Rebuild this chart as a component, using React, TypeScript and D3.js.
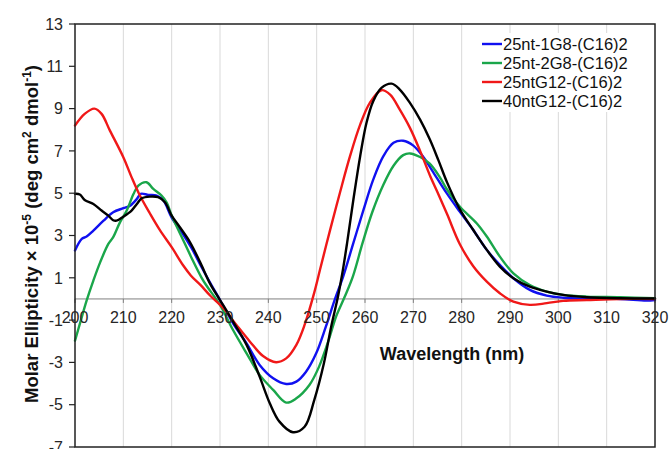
import * as d3 from "d3";

// CD spectra, wavelength (nm) vs molar ellipticity x 10^-5
const blue1G8: [number, number][] = [
  [200, 2.29], [201.4, 2.84], [202.4, 2.95], [203.8, 3.23], [205.9, 3.7], [207.9, 4.1],
  [210, 4.29], [211.4, 4.41], [212.8, 4.73], [213.6, 4.97], [215.2, 4.92], [216.9, 4.89],
  [218.3, 4.65], [220, 3.85], [222.1, 3.15], [224.1, 2.41], [226.2, 1.5], [228, 0.75],
  [230, -0.05], [232.7, -1.15], [235.5, -2.1], [238.2, -3.12], [241, -3.75], [243.7, -4.02],
  [245.8, -3.91], [247.8, -3.44], [249.9, -2.57], [251.9, -1.31], [253.8, 0], [255.5, 1.07],
  [257.6, 2.65], [259.7, 4.22], [261.7, 5.64], [263.8, 6.75], [265.9, 7.38], [267.9, 7.48],
  [270, 7.25], [272.1, 6.7], [274.1, 6.0], [276.9, 5.0], [279.6, 4.13], [282.4, 3.26],
  [285.2, 2.32], [287.9, 1.61], [290.7, 0.98], [294.1, 0.43], [297.6, 0.16], [301, 0.06],
  [305.9, 0.02], [312.8, 0], [318.2, -0.08], [320, -0.05],
];

const green2G8: [number, number][] = [
  [200, -1.97], [201, -1.18], [202.4, -0.08], [203.8, 0.87], [205.2, 1.73], [206.9, 2.6],
  [207.9, 2.92], [209.3, 3.62], [210.7, 4.18], [212.1, 4.96], [213.1, 5.36], [214.8, 5.52],
  [216.2, 5.2], [217.9, 4.89], [219, 4.55], [220, 3.95], [222.1, 2.92], [224.1, 1.95],
  [226.2, 1.0], [227.3, 0.6], [230, -0.28], [232.7, -1.47], [235.5, -2.57], [238.2, -3.59],
  [241, -4.3], [243.7, -4.9], [245.8, -4.7], [248.5, -4.07], [250.5, -3.2], [252.6, -1.86],
  [254, -0.84], [255.8, 0.1], [257.5, 1.07], [259.5, 2.65], [261.5, 4.1], [263.8, 5.4],
  [265.9, 6.3], [267.9, 6.8], [269.3, 6.88], [271.4, 6.71], [273.4, 6.4], [275.5, 5.75],
  [276.9, 5.2], [279.6, 4.37], [283.1, 3.58], [285.2, 2.95], [287.9, 2.0], [290.7, 1.21],
  [294.1, 0.66], [297.6, 0.35], [301, 0.19], [305.9, 0.11], [312.8, 0.08], [320, 0.03],
];

const redG12: [number, number][] = [
  [200, 8.2], [202, 8.75], [204, 9.0], [205.5, 8.75], [207.2, 7.97], [210, 6.7],
  [211.7, 5.76], [213.4, 4.9], [215.5, 4.04], [217.6, 3.24], [220, 2.45], [222.4, 1.58],
  [224, 1.1], [226, 0.65], [228, 0.15], [230.7, -0.44], [233.4, -1.23], [236.2, -2.02],
  [238.9, -2.7], [241.6, -2.99], [243.7, -2.81], [245.8, -2.17], [247.5, -1.23], [249.5, 0.3],
  [250.7, 1.39], [252.8, 3.28], [254.8, 5.01], [256.9, 6.75], [259, 8.24],
  [261, 9.27], [263.4, 9.87], [265.2, 9.66], [267.2, 8.95], [269.3, 8.09], [271.4, 7.0],
  [273.5, 5.8], [275, 5.05], [277, 4.0], [279.6, 2.6], [282.4, 1.55], [285.2, 0.82],
  [287.9, 0.27], [290.7, -0.13], [294.1, -0.28], [297.6, -0.2], [301, -0.09], [305.9, -0.05],
  [312.8, 0], [320, 0],
];

const black40G12: [number, number][] = [
  [200, 4.97], [201, 4.94], [202, 4.68], [203.8, 4.49], [205.5, 4.18], [206.9, 3.94],
  [207.9, 3.72], [208.6, 3.7], [210, 3.89], [211.7, 4.18], [212.8, 4.49], [213.8, 4.76],
  [215.5, 4.84], [217.2, 4.81], [218.6, 4.57], [220, 3.94], [221.7, 3.39], [223.8, 2.68],
  [225.9, 1.73], [228, 0.7], [230, -0.05], [232.7, -1.07], [235.5, -2.17], [238.2, -3.67],
  [240.3, -4.93], [242.3, -5.8], [245.1, -6.3], [247.5, -6.04], [249.5, -4.78], [251.5, -3.04],
  [253, -1.31], [254.4, 0.1], [255.3, 1.2], [256.3, 2.65], [257.6, 4.7], [259, 6.75],
  [260.3, 8.32], [261.7, 9.35], [263.4, 9.98], [265.5, 10.18], [267.2, 9.9], [269.3, 9.27],
  [271.4, 8.48], [273.4, 7.55], [275.2, 6.55], [277, 5.5], [279.6, 4.25], [282.4, 3.26],
  [285.2, 2.32], [287.9, 1.53], [290.7, 0.98], [294.1, 0.58], [297.6, 0.35], [301, 0.19],
  [305.9, 0.08], [312.8, 0.03], [320, 0.02],
];

const seriesNames = ["25nt-1G8-(C16)2", "25nt-2G8-(C16)2", "25ntG12-(C16)2", "40ntG12-(C16)2"];
const seriesColors = ["#1010f0", "#1aa64a", "#f01818", "#000000"];
const seriesData = [blue1G8, green2G8, redG12, black40G12];

const xTicks = [200, 210, 220, 230, 240, 250, 260, 270, 280, 290, 300, 310, 320];
const yTicks = [-7, -5, -3, -1, 1, 3, 5, 7, 9, 11, 13];

const W = 670;
const H = 449;
const M = { left: 75, right: 15, top: 24, bottom: 2 };
const FONT = "Liberation Sans, Arial, sans-serif";

export default function App() {
  const x = d3.scaleLinear().domain([200, 320]).range([M.left, W - M.right]);
  const y = d3.scaleLinear().domain([-7, 13]).range([H - M.bottom, M.top]);

  const line = d3
    .line<[number, number]>()
    .x(d => x(d[0]))
    .y(d => y(d[1]))
    .curve(d3.curveCatmullRom.alpha(0.5));

  const x0 = x(200), x1 = x(320), yTop = y(13), yBot = y(-7), yZero = y(0);

  return (
    <div style={{ position: "fixed", left: 0, top: 0, background: "#fff" }}>
      <svg width={W} height={H} style={{ display: "block" }} fontFamily={FONT}>
        <rect width={W} height={H} fill="#fff" />

        {/* vertical grid */}
        {xTicks.slice(1, -1).map(t => (
          <line key={t} x1={x(t)} x2={x(t)} y1={yTop} y2={yBot} stroke="#d9d9d9" strokeWidth={1} />
        ))}

        {/* zero line and its ticks */}
        <line x1={x0} x2={x1} y1={yZero} y2={yZero} stroke="#7f7f7f" strokeWidth={1} />
        {xTicks.map(t => (
          <line key={t} x1={x(t)} x2={x(t)} y1={yZero} y2={yZero + 4} stroke="#7f7f7f" strokeWidth={1} />
        ))}

        {/* curves */}
        {seriesData.map((s, i) => (
          <path key={i} d={line(s) || ""} fill="none" stroke={seriesColors[i]} strokeWidth={2.4}
            strokeLinejoin="round" strokeLinecap="round" />
        ))}

        {/* frame */}
        <rect x={x0} y={yTop} width={x1 - x0} height={yBot - yTop} fill="none" stroke="#222" strokeWidth={1.5} />

        {/* y ticks */}
        {yTicks.map(t => (
          <g key={t}>
            <line x1={x0 - 6} x2={x0} y1={y(t)} y2={y(t)} stroke="#222" strokeWidth={1.2} />
            <text x={x0 - 12} y={y(t)} dy="0.36em" textAnchor="end" fontSize={16} fill="#262626">{t}</text>
          </g>
        ))}

        {/* x tick labels */}
        {xTicks.map(t => (
          <text key={t} x={x(t)} y={yZero + 24} textAnchor="middle" fontSize={16} fill="#262626">{t}</text>
        ))}

        {/* axis titles */}
        <text x={452} y={360} textAnchor="middle" fontSize={18} fontWeight="bold" fill="#111">Wavelength (nm)</text>
        <text transform="translate(38,234) rotate(-90)" textAnchor="middle" fontSize={18.5} fontWeight="bold" fill="#111">
          Molar Ellipticity × 10<tspan dy={-7} fontSize={12}>-5</tspan>
          <tspan dy={7}> (deg cm</tspan><tspan dy={-7} fontSize={12}>2</tspan>
          <tspan dy={7}> dmol</tspan><tspan dy={-7} fontSize={12}>-1</tspan><tspan dy={7}>)</tspan>
        </text>

        {/* legend */}
        <rect x={476} y={33} width={174} height={79} fill="#fff" />
        {seriesNames.map((n, i) => {
          const ly = 44 + i * 19;
          return (
            <g key={n}>
              <line x1={482} x2={502} y1={ly} y2={ly} stroke={seriesColors[i]} strokeWidth={2.4} />
              <text x={503} y={ly} dy="0.36em" fontSize={16.5} fill="#111">{n}</text>
            </g>
          );
        })}
      </svg>
    </div>
  );
}
